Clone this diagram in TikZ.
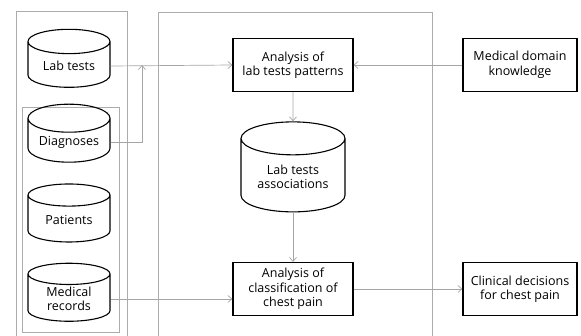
\documentclass[tikz,border=0pt]{standalone}
\usepackage{fontspec}
\setmainfont{Open Sans}
\usetikzlibrary{arrows.meta, positioning, shapes.geometric}

\begin{document}
\begin{tikzpicture}[
    x=1pt, y=-1pt,
    font=\fontsize{12.5}{14.5}\selectfont,
    >={Straight Barb[length=4pt,width=7pt]},
    proc/.style={draw, line width=1.1pt, align=center, inner sep=2pt, minimum width=120pt, minimum height=53pt},
    side/.style={draw, line width=1.1pt, align=center, inner sep=2pt, minimum width=114pt, minimum height=53pt},
    store/.style={draw, line width=1.1pt, cylinder, shape border rotate=90, aspect=0.45, align=center, inner sep=1pt, minimum width=82pt, minimum height=58pt},
    frame/.style={draw=gray!65, line width=0.7pt},
    line/.style={->, draw=gray!70, line width=0.7pt}
]
\useasboundingbox (0,0) rectangle (581,335);

% Frames
\draw[frame] (16,336) |- (127,11) -- (127,336);
\draw[frame] (22,107) rectangle (119,332);
\draw[frame] (158,336) |- (432,12) -- (432,336);

% Data sources
\node[store] (labtests) at (69,66) {Lab tests};
\node[store] (diag) at (69,142) {Diagnoses};
\node[store] (patients) at (69,220) {Patients};
\node[store] (records) at (69,299) {Medical\\records};

% Analysis
\node[proc] (pattern) at (293,65) {Analysis of\\lab tests patterns};
\node[store, minimum width=104pt, minimum height=90pt] (assoc) at (293,177) {Lab tests\\associations};
\node[proc] (classif) at (293,289) {Analysis of\\classification of\\chest pain};

% External
\node[side] (domain) at (520,65) {Medical domain\\knowledge};
\node[side] (decision) at (520,289) {Clinical decisions\\for chest pain};

\coordinate (join) at (142,65);

% Connections
\draw[line] (labtests.east) -- (pattern.west);
\draw[line] (diag.east) -| (join);
\draw[line] (records.east) -- (records.east -| classif.west);
\draw[line] (pattern) -- (assoc);
\draw[line] (assoc) -- (classif);
\draw[line] (domain) -- (pattern);
\draw[line] (classif) -- (decision);

\end{tikzpicture}
\end{document}
